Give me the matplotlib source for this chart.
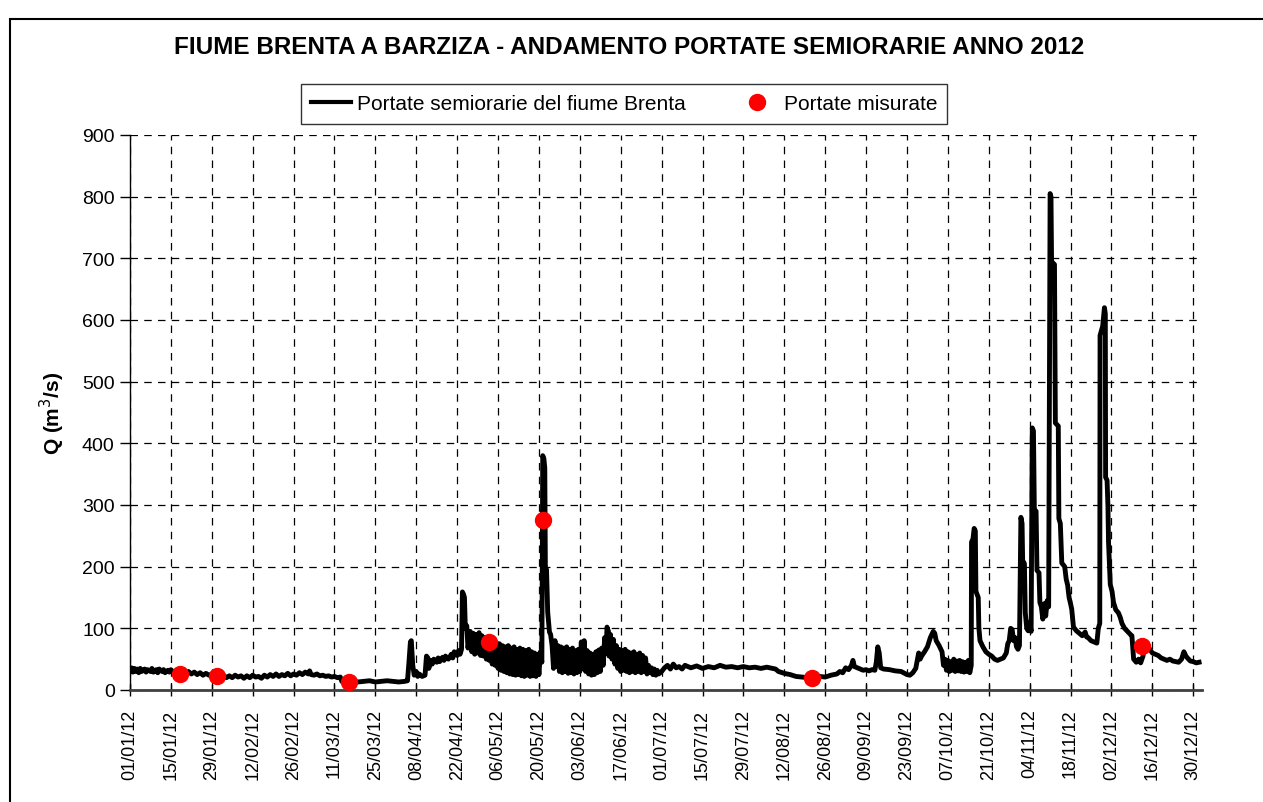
import numpy as np
import pandas as pd
import matplotlib
matplotlib.use("Agg")
import matplotlib.pyplot as plt
from matplotlib.lines import Line2D
from matplotlib.patches import Rectangle

plt.rcParams['font.family'] = ['Liberation Sans', 'DejaVu Sans']

# ---------------- data (day offset from 01/01/2012, discharge m3/s) ----------------
seg_jan_mar = [(0,31),(0.5,36),(1,29),(1.5,35),(2,30),(2.5,34),(3,28),(3.5,35),(4,30),(5,34),(5.5,29),(6,33),
               (7,30),(7.5,35),(8,29),(9,33),(9.5,28),(10,34),(11,30),(11.5,33),(12,28),(13,32),(13.5,29),(14,33),
               (15,28),(16,32),(17,27),(18,31),(19,27),(20,30),(21,26),(22,29),(23,25),(24,28),(25,24),(26,27),
               (27,24),(28,26),(29,23),(30,25),(31,21),(32,24),(33,20),(34,23),(35,20),(36,24),(37,21),(38,23),
               (39,19),(40,23),(41,20),(42,24),(43,21),(44,22),(45,19),(46,24),(47,21),(48,25),(49,22),(50,26),
               (51,22),(52,25),(53,23),(54,27),(55,23),(56,26),(57,24),(58,28),(59,25),(60,29),(61,26),(61.5,31),
               (62,25),(63,24),(64,26),(65,23),(66,24),(67,22),(68,23),(69,21),(70,22),(71,20),(72,21),(72.5,14),
               (74,13),(76,15),(78,13),(80,14),(82,15),(84,13),(86,14),(88,15),(90,14),(92,13),(94,14),(95,15)]

seg_apr_may = [(95.5,45),(96,78),(96.3,80),(96.8,40),(97.3,24),(98,30),(98.5,22),(99,26),(100,22),(101,24),
               (101.5,55),(102,52),(102.3,35),(103,48),(103.5,42),(104,50),(105,45),(105.5,52),(106,46),(107,53),
               (107.5,48),(108,55),(109,50),(110,58),(110.5,52),(111,62),(112,56),(112.5,64),(113,58),(113.5,66),
               (113.8,159),(114.2,155),(114.5,150),(114.8,100),(115.3,104),(115.7,68),
               (116.5,95),(117,62),(117.5,92),(118,58),(118.5,90),(119,60),(119.5,93),(120,56),(120.5,88),(121,55),
               (121.5,85),(122,50),(122.5,82),(123,48),(123.5,80),(124,42),(124.5,78),(125,40),(125.5,76),(126,35),
               (126.5,75),(127,32),(127.5,72),(128,30),(128.5,70),(129,28),(129.5,72),(130,26),(130.5,68),(131,25),
               (131.5,70),(132,24),(132.5,66),(133,25),(133.5,68),(134,23),(134.5,66),(135,22),(135.5,64),(136,24),
               (136.5,66),(137,22),(137.5,62),(138,23),(138.5,60),(139,22),(139.5,58),(140,25),(140.5,62),(141,45)]

seg_may_jun = [(141.3,380),(141.7,375),(142,360),(142.2,200),(142.6,195),(143,126),(143.3,110),(143.6,94),(144,90),
               (144.5,72),(145,35),(145.5,80),(146,38),(146.5,72),(147,30),(147.5,70),(148,28),(148.5,68),(149,30),
               (149.5,70),(150,27),(150.5,66),(151,28),(151.5,68),(152,26),(152.5,64),(153,28),(153.5,66),(154,30),
               (154.5,78),(155,35),(155.5,80),(156,30),(156.5,64),(157,26),(157.5,60),(158,24),(158.5,58),(159,25),
               (159.5,62),(160,28),(160.5,65),(161,30),(161.5,68),(162,40),(162.5,85),(163,60),(163.3,102),(163.8,95),
               (164,55),(164.5,90),(165,50),(165.5,82),(166,42),(166.5,72),(167,35),(167.5,66),(168,30),(168.5,64),
               (169,32),(169.5,66),(170,30),(170.5,62),(171,28),(171.5,60),(172,30),(172.5,62),(173,28),(173.5,58),
               (174,30),(174.5,60),(175,28),(175.5,56),(176,30),(176.5,52),(177,26),(177.5,40),(178,28),(178.5,36),
               (179,25),(179.5,34),(180,24),(180.5,32),(181,26),(182,30)]

seg_jul_oct = [(183,36),(184,40),(185,34),(186,42),(187,36),(188,38),(189,34),(190,40),(192,36),(194,39),(196,35),
               (198,38),(200,36),(202,40),(204,37),(206,38),(208,36),(210,38),(212,36),(214,37),(216,35),(218,37),
               (220,35),(221,34),(222,30),(224,27),(226,25),(228,22),(230,21),(232,20),(234,19),(236,22),(238,21),
               (240,24),(242,26),(243,30),(244,28),(245,36),(246,33),(247,40),(247.5,48),(248,38),(249,36),(250,34),
               (251,32),(252,33),(253,31),(254,33),(255,32),(255.5,45),(256,70),(256.5,60),(257,36),(258,34),(260,33),
               (262,31),(264,30),(266,25),(267,24),(268,28),(269,35),(270,60),(270.5,50),(271,55),(272,62),(273,70),
               (274,85),(275,95),(275.5,92),(276,80),(277,72),(278,62),(278.5,40),
               (279,50),(279.5,32),(280,48),(280.5,30),(281,46),(281.5,32),(282,50),(282.5,30),(283,47),(283.5,31),
               (284,48),(284.5,30),(285,46),(285.5,29),(286,45),(286.5,30),(287,48),(287.5,28),(288,40)]

seg_oct_dec = [(288.1,240),(288.6,245),(289,262),(289.4,258),(289.6,160),(290,155),(290.4,150),(290.6,102),(291,80),
               (292,70),(293,62),(294,58),(295,55),(296,50),(297,48),(298,50),(299,52),(300,60),(300.5,75),(301,80),
               (301.5,100),(302,98),(302.5,80),(303,85),(303.5,70),(304,66),(304.5,72),(305,280),(305.4,270),
               (305.6,210),(306.2,205),(306.5,125),(307,100),(307.5,96),(308,110),(308.5,95),(308.9,425),(309.3,420),
               (309.6,292),(310.2,290),(310.5,194),(311.2,190),(311.5,142),(312,135),(312.5,115),(313,140),
               (313.5,120),(314,145),(314.5,135),(315,805),(315.3,800),(315.5,695),(316.5,690),(316.8,433),
               (317.8,428),(318,278),(318.5,270),(319,206),(320,200),(320.5,180),(321,170),(321.5,150),(322,140),
               (322.4,131),(323,102),(324,96),(325,92),(326,88),(327,94),(327.5,86),(328,85),(329,80),(330,78),
               (331,76),(331.5,100),(332,108),(332.1,575),(333,590),(333.6,620),(333.9,610),(334,345),(334.5,340),
               (334.8,298),(335,240),(335.6,171),(336.2,160),(336.7,142),(337.5,130),(338.4,125),(339,118),
               (339.6,108),(340.5,100),(341.5,95),(342.5,90),(343,88),(343.6,50),(344.5,45),(345.3,50),(346,44),
               (346.8,55),(347.4,72),(348,65),(349,67),(350,60),(351,58),(352,56),(353,52),(354,50),(355,48),
               (356,50),(357,47),(358,46),(359,45),(360,50),(360.8,62),(361.5,55),(362,52),(363,47),(364,46),
               (365,44),(366,45)]

meas_days = [17.1, 29.8, 75.0, 123.0, 141.4, 233.5, 346.5]
meas_q    = [26, 23, 13, 78, 275, 19, 72]

tick_labels = ['01/01/12','15/01/12','29/01/12','12/02/12','26/02/12','11/03/12','25/03/12','08/04/12',
               '22/04/12','06/05/12','20/05/12','03/06/12','17/06/12','01/07/12','15/07/12','29/07/12',
               '12/08/12','26/08/12','09/09/12','23/09/12','07/10/12','21/10/12','04/11/12','18/11/12',
               '02/12/12','16/12/12','30/12/12']

title = 'FIUME BRENTA A BARZIZA - ANDAMENTO PORTATE SEMIORARIE ANNO 2012'
series_label = 'Portate semiorarie del fiume Brenta'
meas_label = 'Portate misurate'

# ---------------- build ----------------
base = pd.Timestamp('2012-01-01')
pairs = seg_jan_mar + seg_apr_may + seg_may_jun + seg_jul_oct + seg_oct_dec
line_days = np.array([p[0] for p in pairs], dtype=float)
line_q = np.array([p[1] for p in pairs], dtype=float)
line_dates = base + pd.to_timedelta(line_days, unit='D')
meas_dates = base + pd.to_timedelta(np.array(meas_days), unit='D')
tick_dates = pd.date_range('2012-01-01', periods=len(tick_labels), freq='14D')

W, H = 1263, 803
fig = plt.figure(figsize=(W/100, H/100), dpi=100)
fig.patch.set_facecolor('white')
ax = fig.add_axes([130/W, 1-691/H, (1202-130)/W, (691-136)/H])

ax.plot(line_dates, line_q, color='black', lw=3.5, solid_joinstyle='round', zorder=3)
ax.plot(meas_dates, meas_q, 'o', color='#ff0000', ms=11.5, mec='#ff0000', zorder=4)

ax.set_ylim(0, 900)
ax.set_yticks(np.arange(0, 901, 100))
ax.set_xlim(base, base + pd.Timedelta(days=367))
ax.set_xticks(tick_dates)
ax.set_xticklabels(tick_labels, rotation=90, fontsize=13)
ax.tick_params(axis='y', labelsize=14, direction='out', length=7, width=1, pad=4)
ax.tick_params(axis='x', direction='inout', length=9, width=1, pad=9)

ax.grid(True, which='major', color='black', linestyle=(0, (6, 5)), linewidth=0.9, zorder=0)
ax.set_axisbelow(True)
for s in ['top', 'right']:
    ax.spines[s].set_visible(False)
ax.spines['left'].set_linewidth(1.0)
ax.spines['bottom'].set_linewidth(2.0)
ax.spines['bottom'].set_color('#404040')

ax.set_ylabel('Q (m$^3$/s)', fontsize=15, fontweight='bold')
ax.yaxis.set_label_coords(-(130-67)/(1202-130), 0.5)

fig.text(0.498, 1-48/H, title, ha='center', va='center', fontsize=17.5, fontweight='bold')

handles = [Line2D([], [], color='black', lw=3),
           Line2D([], [], marker='o', color='#ff0000', ls='none', ms=11.5)]
leg = fig.legend(handles, [series_label, meas_label], loc='center', bbox_to_anchor=(624/W, 1-105/H),
                 ncol=2, frameon=True, fancybox=False, edgecolor='black', fontsize=15,
                 handlelength=1.9, handletextpad=0.3, columnspacing=2.5, borderpad=0.5,
                 borderaxespad=0)
leg.get_frame().set_linewidth(1.0)

fig.patches.append(Rectangle((10/W, -0.01), 1.05, 1-20/H + 0.01, transform=fig.transFigure,
                             fill=False, edgecolor='black', linewidth=1.5))

fig.savefig('out.png', dpi=100)
